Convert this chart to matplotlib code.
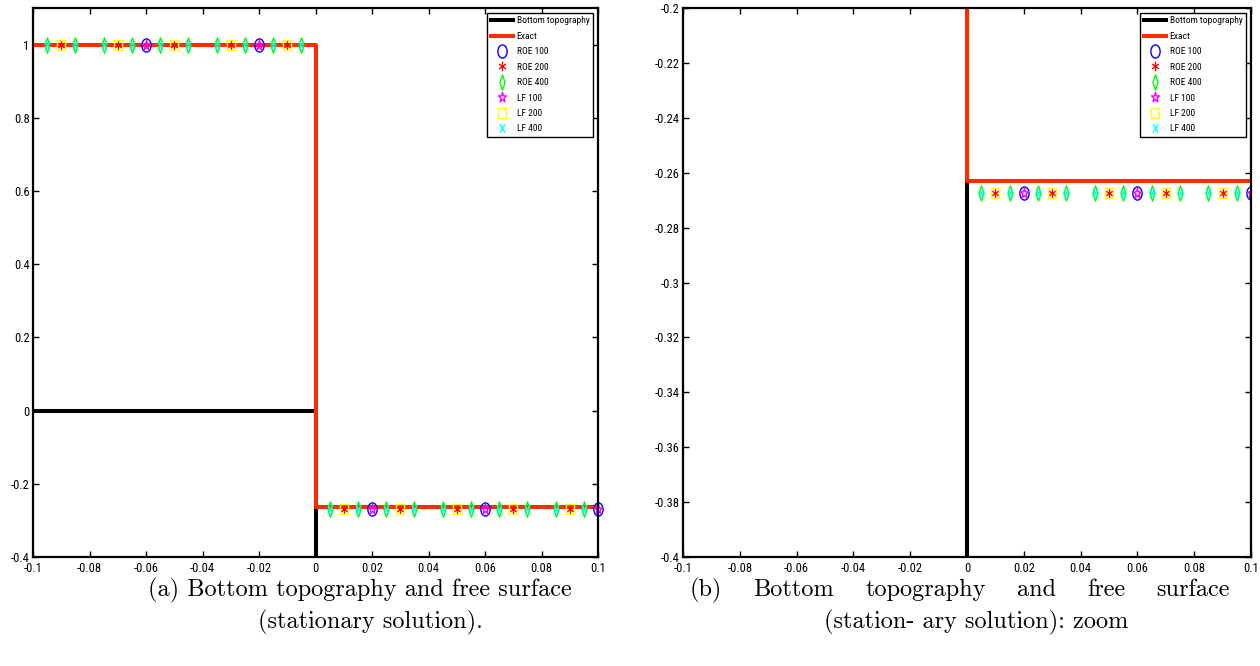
import numpy as np
import matplotlib
matplotlib.use("Agg")
import matplotlib.pyplot as plt
from matplotlib.path import Path
from matplotlib.transforms import Affine2D

plt.rcParams['font.family'] = ['Roboto Condensed', 'DejaVu Sans']
plt.rcParams['axes.unicode_minus'] = False

# exact stationary solution and topography
x_exact = [-0.1, 0.0, 0.0, 0.1]
y_exact = [1.0, 1.0, -0.263, -0.263]
x_bottom = [-0.1, 0.0, 0.0, 0.1]
y_bottom = [0.0, 0.0, -1.0, -1.0]

# numerical free surface, sampled points shown for each mesh
x_100 = [-0.06, -0.02, 0.02, 0.06, 0.1]
y_100 = [1.0, 1.0, -0.2675, -0.2675, -0.2675]
x_200 = [-0.09, -0.07, -0.05, -0.03, -0.01, 0.01, 0.03, 0.05, 0.07, 0.09]
y_200 = [1.0] * 5 + [-0.2675] * 5
x_400 = [-0.095, -0.085, -0.075, -0.065, -0.055, -0.045, -0.035, -0.025, -0.015, -0.005,
         0.005, 0.015, 0.025, 0.035, 0.045, 0.055, 0.065, 0.075, 0.085, 0.095]
y_400 = [1.0] * 10 + [-0.2675] * 10

x_ticks = [-0.1, -0.08, -0.06, -0.04, -0.02, 0, 0.02, 0.04, 0.06, 0.08, 0.1]
x_ticklabels = ['-0.1', '-0.08', '-0.06', '-0.04', '-0.02', '0', '0.02', '0.04', '0.06', '0.08', '0.1']
y_ticks_a = [-0.4, -0.2, 0, 0.2, 0.4, 0.6, 0.8, 1]
y_ticklabels_a = ['-0.4', '-0.2', '0', '0.2', '0.4', '0.6', '0.8', '1']
y_ticks_b = [-0.4, -0.38, -0.36, -0.34, -0.32, -0.3, -0.28, -0.26, -0.24, -0.22, -0.2]
y_ticklabels_b = ['-0.4', '-0.38', '-0.36', '-0.34', '-0.32', '-0.3', '-0.28', '-0.26', '-0.24', '-0.22', '-0.2']


# markers are squeezed horizontally
def squeeze(path, sx=0.65):
    return path.transformed(Affine2D().scale(sx, 1.0))


m_circle = squeeze(Path.unit_circle(), 0.7)
m_diamond = Path([(0, 1), (0.33, 0), (0, -1), (-0.33, 0), (0, 1)],
                 [Path.MOVETO, Path.LINETO, Path.LINETO, Path.LINETO, Path.CLOSEPOLY])
m_square = squeeze(Path.unit_rectangle().transformed(Affine2D().translate(-0.5, -0.5)), 0.7)
m_star = squeeze(Path.unit_regular_star(5, 0.38), 0.8)
m_x = Path([(-0.6, -1), (0.6, 1), (-0.6, 1), (0.6, -1)],
           [Path.MOVETO, Path.LINETO, Path.MOVETO, Path.LINETO])
m_ast = Path([(0, -1), (0, 1), (-0.7, -0.5), (0.7, 0.5), (-0.7, 0.5), (0.7, -0.5)],
             [Path.MOVETO, Path.LINETO] * 3)

series = [
    ('ROE 100', x_100, y_100, m_circle, '#0000ff', 9.5),
    ('ROE 200', x_200, y_200, m_ast, '#ff0000', 7),
    ('ROE 400', x_400, y_400, m_diamond, '#00ff00', 11),
    ('LF 100', x_100, y_100, m_star, '#ff00ff', 7.5),
    ('LF 200', x_200, y_200, m_square, '#ffff00', 7.5),
    ('LF 400', x_400, y_400, m_x, '#00ffff', 6),
]

fig = plt.figure(figsize=(12.6, 6.66), dpi=100)
ax1 = fig.add_axes([33 / 1260, 109 / 666, 565 / 1260, 549 / 666])
ax2 = fig.add_axes([683 / 1260, 109 / 666, 568 / 1260, 549 / 666])


def draw(ax, ylim, yticks, yticklabels, clip):
    ax.plot(x_bottom, y_bottom, color='black', lw=2.9, label='Bottom topography')
    ax.plot(x_exact, y_exact, color='#ff2a00', lw=2.9, label='Exact')
    for name, xs, ys, mk, col, ms in series:
        ax.plot(xs, ys, linestyle='none', marker=mk, markersize=ms,
                markerfacecolor='none', markeredgecolor=col, markeredgewidth=1.0,
                label=name, clip_on=clip)
    ax.set_xlim(-0.1, 0.1)
    ax.set_ylim(*ylim)
    ax.set_xticks(x_ticks)
    ax.set_xticklabels(x_ticklabels)
    ax.set_yticks(yticks)
    ax.set_yticklabels(yticklabels)
    ax.tick_params(direction='in', top=True, right=True, length=4, width=1,
                   labelsize=9)
    ax.tick_params(axis='x', pad=3.5)
    ax.tick_params(axis='y', pad=2.5)
    for sp in ax.spines.values():
        sp.set_linewidth(1.6)
    leg = ax.legend(loc='upper right', fontsize=6.8, frameon=True, fancybox=False,
                    edgecolor='black', framealpha=1, handlelength=2.3,
                    handletextpad=0.4, labelspacing=0.68, borderpad=0.4,
                    borderaxespad=0.5)
    leg.get_frame().set_linewidth(1.0)


draw(ax1, (-0.4, 1.1), y_ticks_a, y_ticklabels_a, False)
draw(ax2, (-0.4, -0.2), y_ticks_b, y_ticklabels_b, True)

row1 = 1 - 590 / 666
row2 = 1 - 622 / 666
cap = dict(family='cmr10', fontsize=17.5, ha='center', va='center')
fig.text(360 / 1260, row1, '(a) Bottom topography and free surface', **cap)
fig.text(370 / 1260, row2, '(stationary solution).', **cap)
fig.text(976 / 1260, row2, '(station- ary solution): zoom', **cap)

# first caption line of (b) is justified between two edges
words = ['(b)', 'Bottom', 'topography', 'and', 'free', 'surface']
x_left, x_right = 690 / 1260, 1230 / 1260
renderer = fig.canvas.get_renderer()
texts = [fig.text(0, row1, w, family='cmr10', fontsize=17.5, ha='left', va='center')
         for w in words]
widths = [t.get_window_extent(renderer).width / fig.bbox.width for t in texts]
gap = (x_right - x_left - sum(widths)) / (len(words) - 1)
pos = x_left
for t, w in zip(texts, widths):
    t.set_x(pos)
    pos += w + gap

fig.savefig('out.png', dpi=100)
